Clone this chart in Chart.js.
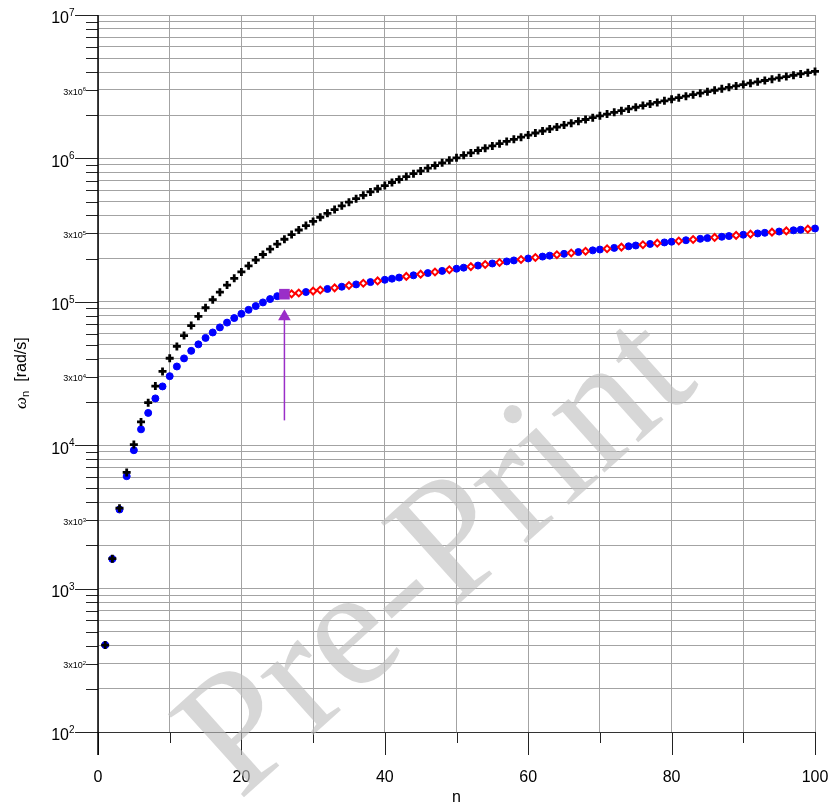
<!DOCTYPE html>
<html>
<head>
<meta charset="utf-8">
<script src="https://cdn.jsdelivr.net/npm/chart.js@4.4.1/dist/chart.umd.min.js"></script>
<style>
  body { margin: 0; background: #fff; }
  #wrap { width: 829px; height: 803px; }
</style>
</head>
<body>
<div id="wrap"><canvas id="omegaChart" width="829" height="803"></canvas></div>
<script>
// mode number n and natural frequency (rad/s)
const blackN = [1,2,3,4,5,6,7,8,9,10,11,12,13,14,15,16,17,18,19,20,21,22,23,24,25,26,27,28,29,30,
  31,32,33,34,35,36,37,38,39,40,41,42,43,44,45,46,47,48,49,50,51,52,53,54,55,56,57,58,59,60,
  61,62,63,64,65,66,67,68,69,70,71,72,73,74,75,76,77,78,79,80,81,82,83,84,85,86,87,88,89,90,
  91,92,93,94,95,96,97,98,99,100];
const blackW = [404,1616,3640,6460,10100,14540,19800,25860,32720,40400,48880,58180,68280,79180,90900,
  103400,116800,130900,145800,161600,178200,195500,213700,232700,252500,273100,294500,316700,339800,363600,
  388200,413700,440000,467000,494900,523600,553100,583400,614500,646400,679100,712700,747000,782100,818100,
  854900,892400,930800,970000,1010000,1051000,1092000,1135000,1178000,1222000,1267000,1313000,1359000,1406000,1454000,
  1503000,1553000,1603000,1655000,1707000,1760000,1814000,1868000,1923000,1980000,2037000,2094000,2153000,2212000,2273000,
  2334000,2395000,2458000,2521000,2586000,2651000,2716000,2783000,2851000,2919000,2988000,3058000,3129000,3200000,3272000,
  3346000,3419000,3494000,3570000,3646000,3723000,3801000,3880000,3960000,4040000];

const blueN = [1,2,3,4,5,6,7,8,9,10,11,12,13,14,15,16,17,18,19,20,21,22,23,24,25,26,
  29,32,34,36,38,40,41,42,44,46,48,50,51,53,55,57,58,60,62,63,65,67,69,70,
  72,74,75,77,79,80,82,84,85,87,88,90,92,93,95,97,98,100];
const blueW = [404,1610,3560,6080,9230,12900,16800,21200,25700,30300,35400,40300,45500,50500,56000,
  61100,66300,71600,77000,82400,87900,93400,99000,104500,109500,112000,
  117000,122900,127400,132200,137200,142400,145000,147600,153000,158600,164300,170100,173000,179000,
  185000,191200,194300,200500,206700,209800,216000,222200,228400,231500,
  237700,243900,247000,253200,259400,262500,268700,274900,278000,284200,287300,293500,299700,302800,
  309000,315200,318300,324500];

const redN = [27,28,30,31,33,35,37,39,43,45,47,49,52,54,56,59,61,64,66,68,71,73,76,78,81,83,86,89,91,94,96,99];
const redW = [113600,115200,118800,120800,125100,129800,134700,139800,150300,155800,161400,167200,176000,182000,188100,
  197400,203600,212900,219100,225300,234600,240800,250100,256300,265600,271800,281100,290400,296600,305900,312100,321400];

const cutoffN = [26];
const cutoffW = [113000];
const arrowN = [26, 26];
const arrowW = [14900, 79000];

const xTicks = [0,10,20,30,40,50,60,70,80,90,100];
const xLabels = [0,20,40,60,80,100];
const yTicks = [100,200,300,400,500,600,700,800,900,
  1000,2000,3000,4000,5000,6000,7000,8000,9000,
  10000,20000,30000,40000,50000,60000,70000,80000,90000,
  100000,200000,300000,400000,500000,600000,700000,800000,900000,
  1000000,2000000,3000000,4000000,5000000,6000000,7000000,8000000,9000000,10000000];
const yMajor = [[100,'2'],[1000,'3'],[10000,'4'],[100000,'5'],[1000000,'6'],[10000000,'7']];
const yThree = [[300,'2'],[3000,'3'],[30000,'4'],[300000,'5'],[3000000,'6']];

const fam = '"Liberation Sans", Arial, sans-serif';
const gridGray = '#a3a3a3';
const purple = '#9a2ec8';

function pts(xs, ys) {
  return xs.map((x, i) => ({ x: x, y: ys[i] }));
}

// tick marks, axis lines, y tick labels with exponents, y title
const axisDecor = {
  id: 'axisDecor',
  afterDraw(chart) {
    const ctx = chart.ctx;
    const xs = chart.scales.x, ys = chart.scales.y;
    const left = chart.chartArea.left, bottom = chart.chartArea.bottom;
    ctx.save();
    ctx.strokeStyle = '#222';
    ctx.lineWidth = 1;
    // y tick marks
    yTicks.forEach(v => {
      const y = Math.round(ys.getPixelForValue(v)) + 0.5;
      const isMajor = yMajor.some(m => m[0] === v);
      ctx.beginPath();
      ctx.moveTo(isMajor ? left - 23 : left - 12, y);
      ctx.lineTo(left, y);
      ctx.stroke();
    });
    // x tick marks
    xTicks.forEach(v => {
      const x = Math.round(xs.getPixelForValue(v)) + 0.5;
      const isMajor = xLabels.includes(v);
      ctx.beginPath();
      ctx.moveTo(x, bottom);
      ctx.lineTo(x, bottom + (isMajor ? 23 : 11));
      ctx.stroke();
    });
    // x axis line
    ctx.strokeStyle = '#333';
    ctx.beginPath();
    ctx.moveTo(left, Math.round(bottom) + 0.5);
    ctx.lineTo(chart.chartArea.right, Math.round(bottom) + 0.5);
    ctx.stroke();
    // y axis line
    ctx.strokeStyle = '#000';
    ctx.lineWidth = 1.5;
    ctx.beginPath();
    ctx.moveTo(left, chart.chartArea.top);
    ctx.lineTo(left, bottom + 23);
    ctx.stroke();

    // y labels
    ctx.fillStyle = '#000';
    ctx.textAlign = 'left';
    ctx.textBaseline = 'alphabetic';
    const powLabel = (base, exp, xRight, y, big) => {
      const f1 = big ? 16 : 9, f2 = big ? 10 : 6;
      ctx.font = f2 + 'px ' + fam;
      const we = ctx.measureText(exp).width;
      ctx.font = f1 + 'px ' + fam;
      const wb = ctx.measureText(base).width;
      const x0 = xRight - we - wb;
      ctx.fillText(base, x0, y + (big ? 8.3 : 4.7));
      ctx.font = f2 + 'px ' + fam;
      ctx.fillText(exp, x0 + wb, y + (big ? 1 : 1.4));
    };
    yMajor.forEach(m => powLabel('10', m[1], left - 23.5, ys.getPixelForValue(m[0]), true));
    yThree.forEach(m => powLabel('3x10', m[1], left - 12, ys.getPixelForValue(m[0]), false));

    // y title
    ctx.translate(26, 409);
    ctx.rotate(-Math.PI / 2);
    ctx.font = 'italic 17px "Liberation Serif", serif';
    ctx.fillText('ω', 0, 0);
    ctx.font = '11px ' + fam;
    ctx.fillText('n', 12, 3);
    ctx.font = '16px ' + fam;
    ctx.fillText('[rad/s]', 27.3, 0);
    ctx.restore();
  }
};

const watermark = {
  id: 'watermark',
  afterDraw(chart) {
    const ctx = chart.ctx;
    ctx.save();
    ctx.translate(440, 560);
    ctx.rotate(-42 * Math.PI / 180);
    ctx.font = '172px "Liberation Serif", serif';
    ctx.fillStyle = 'rgba(190,190,190,0.62)';
    ctx.textAlign = 'center';
    ctx.textBaseline = 'middle';
    ctx.fillText('Pre-Print', 0, 0);
    ctx.restore();
  }
};

new Chart(document.getElementById('omegaChart'), {
  type: 'scatter',
  data: {
    datasets: [
      {
        label: 'Euler-Bernoulli',
        data: pts(blackN, blackW),
        pointStyle: 'cross',
        pointRadius: 4,
        borderWidth: 2.8,
        borderColor: '#000',
        clip: false,
        order: 0
      },
      {
        label: 'cutoff arrow',
        data: pts(arrowN, arrowW),
        showLine: true,
        borderColor: purple,
        borderWidth: 1.5,
        pointStyle: 'triangle',
        pointRadius: [0, 7.3],
        backgroundColor: purple,
        pointBorderWidth: 0,
        clip: false,
        order: 1
      },
      {
        label: 'cutoff',
        data: pts(cutoffN, cutoffW),
        pointStyle: 'rect',
        pointRadius: 7.5,
        backgroundColor: purple,
        borderColor: purple,
        borderWidth: 0,
        clip: false,
        order: 2
      },
      {
        label: 'second spectrum',
        data: pts(redN, redW),
        pointStyle: 'rectRot',
        pointRadius: 3.4,
        borderWidth: 2,
        borderColor: '#ff0000',
        backgroundColor: '#fff',
        clip: false,
        order: 3
      },
      {
        label: 'Timoshenko',
        data: pts(blueN, blueW),
        pointStyle: 'circle',
        pointRadius: 3.5,
        borderWidth: 1,
        borderColor: '#0000ff',
        backgroundColor: '#0000ff',
        clip: false,
        order: 4
      }
    ]
  },
  options: {
    responsive: false,
    animation: false,
    layout: { padding: { top: 15, right: 14, left: 0, bottom: 0 } },
    plugins: { legend: { display: false }, tooltip: { enabled: false } },
    scales: {
      x: {
        type: 'linear',
        min: 0,
        max: 100,
        afterBuildTicks: s => { s.ticks = xTicks.map(v => ({ value: v })); },
        afterFit: s => { s.height = 71; },
        grid: { color: gridGray, lineWidth: 1, drawTicks: true, tickLength: 36, tickColor: 'rgba(0,0,0,0)' },
        border: { display: false },
        ticks: {
          padding: 0,
          autoSkip: false,
          maxRotation: 0,
          color: '#000',
          font: { size: 16, family: fam },
          callback: v => xLabels.includes(v) ? String(v) : ''
        },
        title: {
          display: true,
          text: 'n',
          color: '#000',
          font: { size: 16, family: fam },
          padding: { top: 0, bottom: -4 }
        }
      },
      y: {
        type: 'logarithmic',
        min: 100,
        max: 10000000,
        afterBuildTicks: s => { s.ticks = yTicks.map(v => ({ value: v })); },
        afterFit: s => { s.width = 98; },
        grid: { color: gridGray, lineWidth: 1, drawTicks: false },
        border: { display: false },
        ticks: { display: false }
      }
    }
  },
  plugins: [axisDecor, watermark]
});
</script>
</body>
</html>
